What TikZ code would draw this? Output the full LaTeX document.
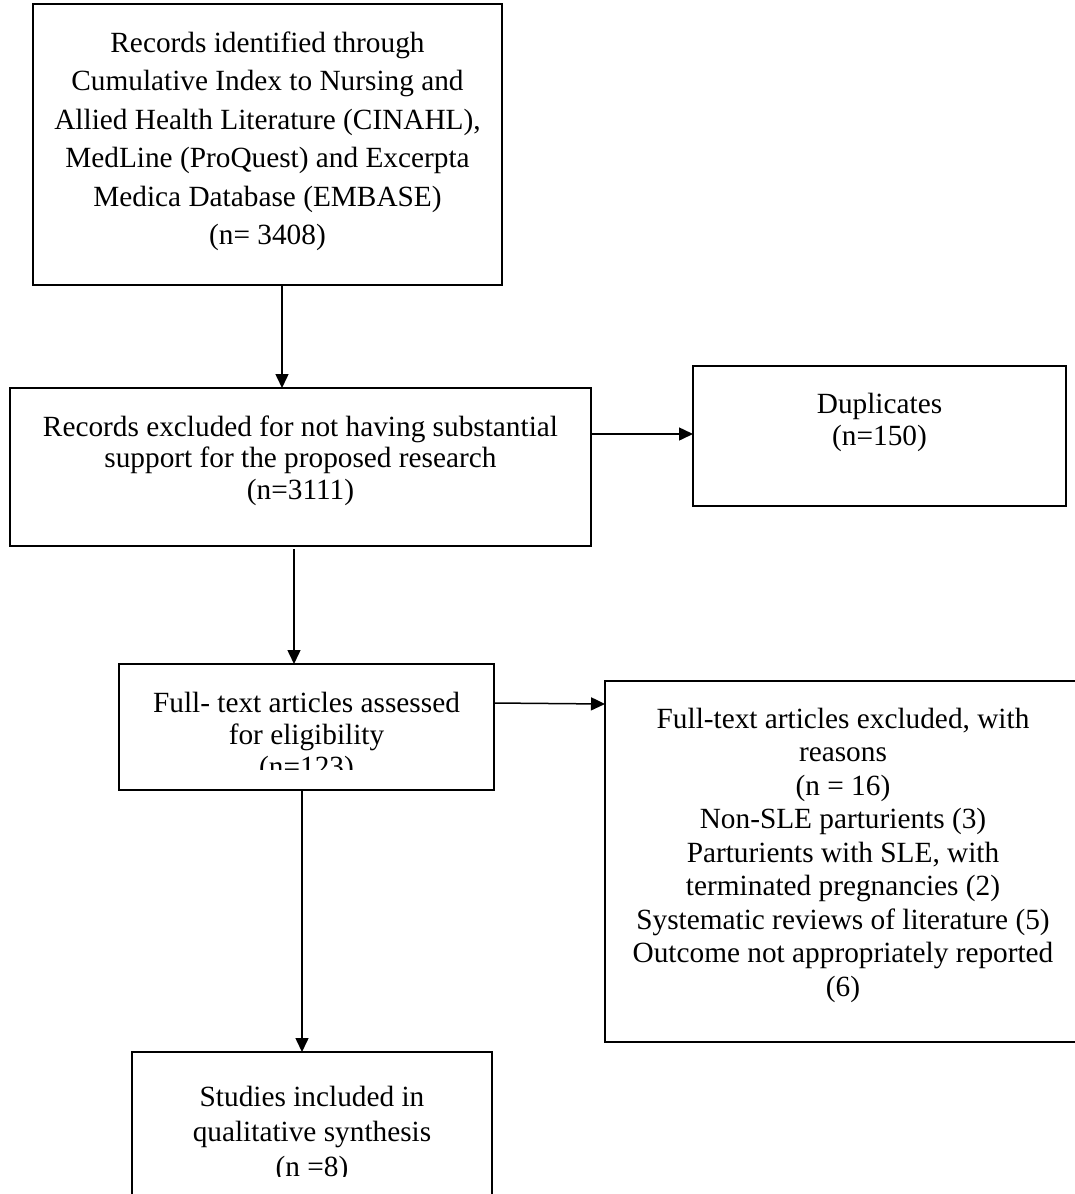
\documentclass[tikz,border=0pt]{standalone}
\usepackage{fontspec}
\setmainfont{Liberation Serif}
\usetikzlibrary{arrows.meta}
\begin{document}
\begin{tikzpicture}[x=1pt,y=-1pt,
  box/.style={draw, line width=1.6pt, inner sep=0pt, outer sep=0pt},
  conn/.style={line width=1.5pt, -{Triangle[length=14pt,width=13pt]}},
  txt/.style={align=center, inner sep=0pt, anchor=north}]
\useasboundingbox (0,0) rectangle (1075,1194);
\clip (0,0) rectangle (1075,1194);
\fill[white] (0,0) rectangle (1075,1194);

% boxes
\node[box, minimum width=469pt, minimum height=281pt] (b1) at (267.5,144.5) {};
\node[box, minimum width=581pt, minimum height=158pt] (b2) at (300.5,467) {};
\node[box, minimum width=373pt, minimum height=140pt] (dup) at (879.5,436) {};
\node[box, minimum width=375pt, minimum height=126pt] (b3) at (306.5,727) {};
\node[box, minimum width=476pt, minimum height=361pt] (b4) at (843,861.5) {};
\node[box, minimum width=360pt, minimum height=178pt] (b5) at (312,1141) {};

% texts
\node[txt, font=\fontsize{29.3}{38.5}\selectfont] (t1) at (267.5,25) {\strut Records identified through\\
Cumulative Index to Nursing and\\
Allied Health Literature (CINAHL),\\
MedLine (ProQuest) and Excerpta\\
Medica Database (EMBASE)\\
(n= 3408)};
\node[txt, font=\fontsize{29.3}{31.5}\selectfont] (t2) at (300.5,414) {\strut Records excluded for not having substantial\\
support for the proposed research\\
(n=3111)};
\node[txt, font=\fontsize{29.3}{32}\selectfont] (t3) at (879.5,390.6) {\strut Duplicates\\ (n=150)};
\begin{scope}
\clip (b3.north west) rectangle ([yshift=21pt]b3.south east);
\node[txt, font=\fontsize{29.3}{32}\selectfont] (t4) at (306.5,689.6) {\strut Full- text articles assessed\\
for eligibility\\
(n=123)};
\end{scope}
\node[txt, font=\fontsize{29.3}{33.5}\selectfont] (t5) at (843,704.5) {\strut Full-text articles excluded, with\\
reasons\\
(n = 16)\\
Non-SLE parturients (3)\\
Parturients with SLE, with\\
terminated pregnancies (2)\\
Systematic reviews of literature (5)\\
Outcome not appropriately reported\\
(6)};
\begin{scope}
\clip (b5.north west) rectangle (b5.east |- 0,1176);
\node[txt, font=\fontsize{29.3}{35}\selectfont] (t6) at (312,1081.5) {\strut Studies included in\\
qualitative synthesis\\
(n =8)};
\end{scope}

% connectors
\draw[conn] ([xshift=14.5pt]b1.south) -- ([xshift=-18.5pt]b2.north);
\draw[conn] ([yshift=33pt]b2.east) -- ([yshift=2pt]dup.west);
\draw[conn] ([xshift=-6.5pt,yshift=-3pt]b2.south) -- ([xshift=-12.5pt]b3.north);
\draw[conn] ([yshift=24pt]b3.east) -- ([yshift=157.5pt]b4.west);
\draw[conn] ([xshift=-4.5pt]b3.south) -- ([xshift=-10pt]b5.north);
\end{tikzpicture}
\end{document}
